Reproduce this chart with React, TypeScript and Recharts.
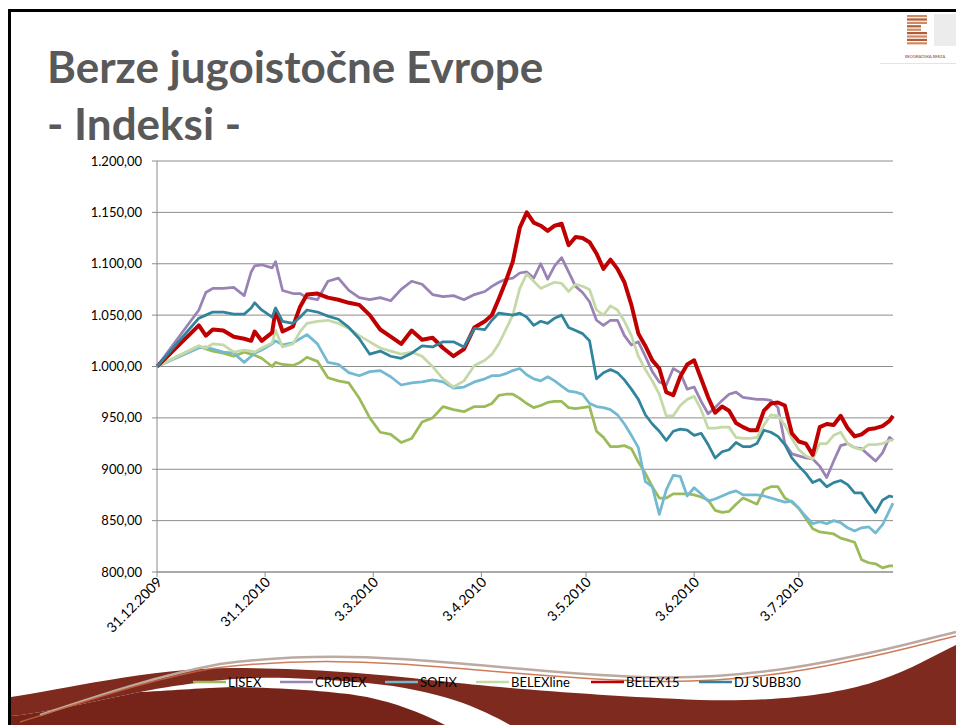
import React from 'react';
import { LineChart, Line, XAxis, YAxis, CartesianGrid } from 'recharts';

// days counted from 31.12.2009
const days = [
  0, 12, 14, 16, 19, 22, 25, 27, 28, 30,
  33, 34, 36, 39, 41, 43, 46, 49, 52, 55,
  58, 61, 64, 67, 70, 73, 76, 79, 82, 85,
  88, 91, 94, 96, 98, 100, 102, 104, 106, 108,
  110, 112, 114, 116, 118, 120, 122, 124, 126, 128,
  130, 132, 134, 136, 138, 140, 142, 144, 146, 148,
  150, 152, 154, 156, 158, 160, 162, 164, 166, 168,
  170, 172, 174, 176, 178, 180, 182, 184, 186, 188,
  190, 192, 194, 196, 198, 200, 202, 204, 206, 208,
  210, 211,
];

const lisex = [
  1000, 1020, 1017, 1015, 1013, 1010, 1014, 1012, 1011, 1008,
  1000, 1004, 1002, 1001, 1004, 1009, 1005, 989, 986, 984,
  969, 950, 936, 934, 926, 930, 946, 950, 961, 958,
  956, 961, 961, 964, 972, 973, 973, 969, 964, 960,
  962, 965, 966, 966, 960, 959, 960, 961, 937, 931,
  922, 922, 923, 920, 907, 896, 883, 872, 872, 876,
  876, 876, 875, 873, 870, 860, 858, 859, 866, 872,
  869, 866, 880, 883, 883, 872, 868, 862, 852, 842,
  839, 838, 837, 833, 831, 829, 812, 809, 808, 804,
  806, 806,
];

const crobex = [
  1000, 1055, 1072, 1076, 1076, 1077, 1069, 1092, 1098, 1099,
  1096, 1102, 1074, 1071, 1071, 1067, 1065, 1083, 1086, 1074,
  1067, 1065, 1067, 1064, 1075, 1083, 1080, 1070, 1068, 1069,
  1065, 1070, 1073, 1078, 1082, 1085, 1086, 1091, 1092, 1086,
  1100, 1085, 1098, 1106, 1092, 1078, 1072, 1063, 1045, 1040,
  1045, 1045, 1030, 1021, 1024, 1010, 995, 985, 982, 998,
  994, 978, 980, 966, 954, 960, 967, 973, 975, 970,
  969, 968, 968, 967, 960, 925, 915, 913, 911, 910,
  903, 892, 908, 923, 925, 921, 920, 914, 908, 916,
  931, 928,
];

const sofix = [
  1000, 1018, 1019, 1017, 1014, 1013, 1004, 1010, 1013, 1016,
  1022, 1025, 1021, 1023, 1027, 1031, 1022, 1004, 1002, 994,
  991, 995, 996, 990, 982, 984, 985, 987, 985, 979,
  980, 985, 988, 991, 991, 993, 996, 998, 992, 988,
  986, 990, 986, 981, 976, 975, 973, 964, 961, 960,
  958, 953, 944, 933, 921, 888, 883, 856, 880, 894,
  893, 874, 882, 876, 869, 871, 874, 877, 879, 875,
  875, 875, 874, 872, 870, 868, 869, 862, 854, 847,
  849, 847, 850, 848, 843, 840, 843, 844, 838, 846,
  860, 867,
];

const belexline = [
  1000, 1020, 1018, 1022, 1021, 1014, 1016, 1015, 1014, 1018,
  1023, 1035, 1019, 1022, 1034, 1042, 1044, 1045, 1042, 1037,
  1030, 1024, 1018, 1015, 1012, 1014, 1010, 1000, 988, 980,
  986, 1001, 1006, 1012, 1022, 1036, 1050, 1076, 1090, 1083,
  1076, 1079, 1082, 1081, 1073, 1080, 1078, 1075, 1055, 1050,
  1059, 1055, 1044, 1030, 1010, 997, 986, 973, 952, 952,
  962, 968, 971, 958, 940, 940, 941, 941, 931, 930,
  930, 931, 943, 953, 952, 943, 930, 919, 913, 910,
  925, 925, 933, 936, 925, 921, 919, 924, 924, 925,
  928, 928,
];

const belex15 = [
  1000, 1040, 1030, 1036, 1035, 1029, 1027, 1025, 1034, 1025,
  1033, 1055, 1034, 1039, 1058, 1070, 1071, 1067, 1065, 1062,
  1060, 1050, 1036, 1029, 1022, 1035, 1026, 1028, 1018, 1010,
  1017, 1038, 1044, 1050, 1066, 1083, 1102, 1135, 1150, 1140,
  1137, 1132, 1137, 1139, 1118, 1126, 1125, 1121, 1110, 1095,
  1104, 1095, 1082, 1060, 1032, 1020, 1006, 998, 975, 972,
  990, 1002, 1006, 988, 970, 955, 961, 957, 945, 941,
  938, 938, 957, 964, 965, 962, 935, 927, 925, 914,
  941, 944, 943, 952, 940, 932, 934, 939, 940, 942,
  947, 952,
];

const djsubb30 = [
  1000, 1047, 1050, 1053, 1053, 1051, 1051, 1057, 1062, 1055,
  1048, 1057, 1044, 1042, 1048, 1055, 1053, 1049, 1046, 1038,
  1027, 1012, 1015, 1010, 1008, 1013, 1020, 1019, 1024, 1024,
  1019, 1037, 1036, 1045, 1052, 1051, 1050, 1052, 1048, 1040,
  1044, 1042, 1047, 1050, 1038, 1035, 1032, 1025, 988, 994,
  997, 994, 987, 978, 968, 953, 944, 937, 928, 937,
  939, 938, 933, 935, 924, 911, 917, 919, 926, 922,
  922, 925, 938, 936, 932, 924, 911, 903, 896, 887,
  890, 883, 887, 889, 885, 877, 877, 867, 858, 870,
  874, 873,
];

const tickDays = [0, 31, 62, 93, 123, 154, 184];
const tickLabels = ['31.12.2009', '31.1.2010', '3.3.2010', '3.4.2010', '3.5.2010', '3.6.2010', '3.7.2010'];
const yTicks = [800, 850, 900, 950, 1000, 1050, 1100, 1150, 1200];

const seriesNames = ['LISEX', 'CROBEX', 'SOFIX', 'BELEXline', 'BELEX15', 'DJ SUBB30'];
const seriesKeys = ['lisex', 'crobex', 'sofix', 'belexline', 'belex15', 'djsubb30'];
const seriesColors = ['#9BBB59', '#9983B5', '#72B9D1', '#C5D9A8', '#C00000', '#31849B'];
const seriesWidths = [2.75, 2.75, 2.75, 2.75, 4, 2.75];
const legendX = [193, 280, 385, 476, 591, 699];

const data = days.map((d, i) => ({
  day: d,
  lisex: lisex[i],
  crobex: crobex[i],
  sofix: sofix[i],
  belexline: belexline[i],
  belex15: belex15[i],
  djsubb30: djsubb30[i],
}));

const FONT = 'Lato, "Open Sans", sans-serif';

const fmtY = (v: number) => {
  const [int, dec] = v.toFixed(2).split('.');
  const withDots = int.replace(/\B(?=(\d{3})+(?!\d))/g, '.');
  return `${withDots},${dec}`;
};

const XTick = (props: any) => {
  const { x, y, payload } = props;
  const idx = tickDays.indexOf(payload.value);
  const tx = x + 6;
  const ty = y + 4;
  return (
    <text x={tx} y={ty} transform={`rotate(-45, ${tx}, ${ty})`} textAnchor="end"
      fontSize={14} fontFamily={FONT} fill="#000">
      {idx >= 0 ? tickLabels[idx] : ''}
    </text>
  );
};

const Decor = () => (
  <svg width={956} height={725} style={{ position: 'absolute', left: 0, top: 0 }}>
    <rect x={0} y={0} width={956} height={725} fill="#fff" />
    {/* frame */}
    <rect x={8} y={9} width={3} height={716} fill="#000" />
    <rect x={8} y={9} width={948} height={3} fill="#000" />
    {/* logo */}
    {[0, 1, 2, 3, 4, 5, 6, 7, 8].map(i => (
      <rect key={i} x={907} y={15 + i * 3.4} width={i === 3 || i === 4 ? 14 : 20} height={2.2}
        fill={i % 2 ? '#b35c38' : '#d08a62'} />
    ))}
    <rect x={934} y={14} width={22} height={32} fill="#ececec" />
    <text x={905} y={58} fontSize={4} fill="#8a3a20" fontFamily={FONT}>BEOGRADSKA BERZA</text>
    <rect x={880} y={63} width={76} height={1} fill="#e4e4e4" />
    {/* title */}
    <text x={47} y={83} fontSize={44} fontWeight={700} fill="#595959" fontFamily={FONT}>Berze jugoistočne Evrope</text>
    <text x={47} y={140} fontSize={44} fontWeight={700} fill="#595959" fontFamily={FONT}>- Indeksi -</text>
    {/* bottom swoosh */}
    <path d="M11,697 C60,690 150,668 233,668 C300,668 360,672 440,681 C500,688 600,696 700,700 C780,702 840,694 880,680 C910,670 935,655 956,645 L956,725 L510,725 C480,708 440,690 367,683 C300,677 260,677 233,679 C190,683 160,688 140,692 C100,700 50,712 11,716 Z"
      fill="#7E2A1E" />
    <path d="M11,716 C50,712 100,700 140,692 C180,690 200,688 233,687 C290,688 340,692 367,697 C395,703 420,712 445,725 L11,725 Z"
      fill="#76241A" />
    <path d="M40,715 C100,695 160,675 220,664 C280,656 340,655 400,659 C480,664 560,674 640,677 C720,680 790,670 850,657 C900,647 930,638 956,632"
      fill="none" stroke="#bcaaa2" strokeWidth={2.5} />
    <path d="M20,722 C90,700 150,679 215,668 C280,660 340,660 400,664 C480,669 560,679 640,681 C720,684 790,674 850,661 C900,651 930,642 956,636"
      fill="none" stroke="#c8643a" strokeWidth={1.5} opacity={0.85} />
  </svg>
);

const LegendRow = () => (
  <svg width={956} height={725} style={{ position: 'absolute', left: 0, top: 0, pointerEvents: 'none' }}>
    {seriesNames.map((n, i) => (
      <g key={n}>
        <line x1={legendX[i]} x2={legendX[i] + 33} y1={682} y2={682} stroke={seriesColors[i]} strokeWidth={2.5} />
        <text x={legendX[i] + 35} y={687} fontSize={13} fontFamily={FONT} fill="#000">{n}</text>
      </g>
    ))}
  </svg>
);

export default function App() {
  return (
    <div style={{ position: 'absolute', left: 0, top: 0, width: 956, height: 725, overflow: 'hidden', background: '#fff' }}>
      <Decor />
      <div style={{ position: 'absolute', left: 0, top: 0 }}>
        <LineChart width={956} height={725} data={data}
          margin={{ top: 161, right: 63, left: 97, bottom: 93 }}>
          <CartesianGrid vertical={false} stroke="#8c8c8c" />
          <XAxis dataKey="day" type="number" domain={[0, 211]} ticks={tickDays}
            interval={0} height={60} tickSize={5} tickMargin={2}
            axisLine={{ stroke: '#8c8c8c' }} tickLine={{ stroke: '#8c8c8c' }}
            tick={<XTick />} />
          <YAxis type="number" domain={[800, 1200]} ticks={yTicks} interval={0}
            width={60} tickSize={5} tickMargin={10} tickFormatter={fmtY}
            axisLine={{ stroke: '#8c8c8c' }} tickLine={{ stroke: '#8c8c8c' }}
            tick={{ fontSize: 13, fill: '#000', fontFamily: FONT }} />
          {seriesKeys.map((k, i) => (
            <Line key={k} dataKey={k} name={seriesNames[i]} type="linear" dot={false}
              stroke={seriesColors[i]} strokeWidth={seriesWidths[i]} strokeLinejoin="round"
              isAnimationActive={false} />
          ))}
        </LineChart>
      </div>
      <LegendRow />
    </div>
  );
}
